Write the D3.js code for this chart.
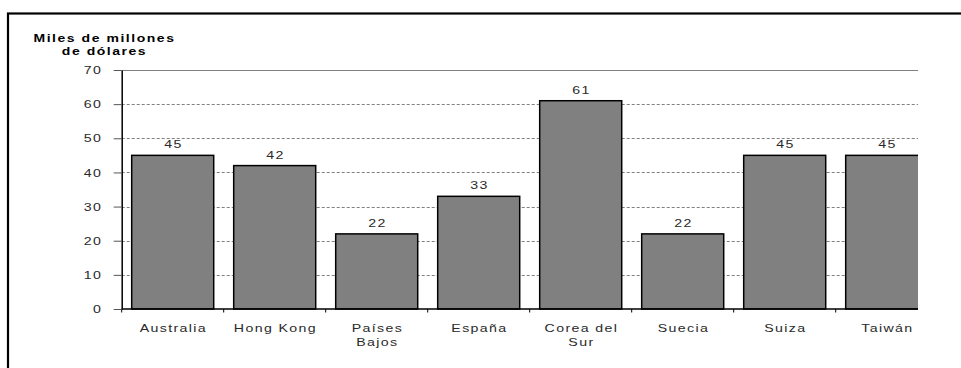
<!DOCTYPE html>
<html>
<head>
<meta charset="utf-8">
<script src="https://cdn.jsdelivr.net/npm/d3@7"></script>
<style>
  html, body { margin: 0; padding: 0; background: #fff; }
  svg { display: block; }
  text { font-family: "Liberation Sans", Arial, sans-serif; font-size: 10.5px; fill: #2a2a2a; letter-spacing: 1px; }
</style>
</head>
<body>
<div id="chart"></div>
<script>
// ---- data ----
const categories = ["Australia", "Hong Kong", "Países Bajos", "España", "Corea del Sur", "Suecia", "Suiza", "Taiwán"];
const categoryLabels = [["Australia"], ["Hong Kong"], ["Países", "Bajos"], ["España"], ["Corea del", "Sur"], ["Suecia"], ["Suiza"], ["Taiwán"]];
const values = [45, 42, 22, 33, 61, 22, 45, 45];
const yTicks = [0, 10, 20, 30, 40, 50, 60, 70];
const yTitle = ["Miles de millones", "de dólares"];

// ---- layout ----
const W = 961, H = 368;
const plotLeft = 121.7, plotRight = 937.7, clipRight = 918;
const plotTop = 70, plotBottom = 309;
const sx = 1.35; // horizontal stretch of text

const svg = d3.select("#chart").append("svg").attr("width", W).attr("height", H);

// frame (clipped by window)
svg.append("rect").attr("x", 8).attr("y", 13.5).attr("width", 1000).attr("height", 400)
  .attr("fill", "none").attr("stroke", "#000").attr("stroke-width", 2.2);

const y = d3.scaleLinear().domain([0, 70]).range([plotBottom, plotTop]);
const x = d3.scaleBand().domain(categories).range([plotLeft, plotRight])
  .paddingInner(0.196).paddingOuter(0.098);
const xb = d3.scaleBand().domain(categories).range([plotLeft, plotRight]).padding(0);

svg.append("clipPath").attr("id", "clip").append("rect")
  .attr("x", 0).attr("y", 0).attr("width", clipRight).attr("height", H);

const plot = svg.append("g").attr("clip-path", "url(#clip)");

// gridlines
plot.selectAll("line.grid").data(yTicks.filter(d => d > 0)).enter().append("line")
  .attr("class", "grid")
  .attr("x1", plotLeft).attr("x2", plotRight)
  .attr("y1", d => Math.round(y(d)) + 0.5).attr("y2", d => Math.round(y(d)) + 0.5)
  .attr("stroke", "#808080").attr("stroke-width", 1)
  .attr("stroke-dasharray", d => d === 70 ? null : "3,2");

// bars
plot.selectAll("rect.bar").data(values).enter().append("rect")
  .attr("class", "bar")
  .attr("x", (d, i) => x(categories[i]))
  .attr("y", d => y(d))
  .attr("width", x.bandwidth())
  .attr("height", d => y(0) - y(d))
  .attr("fill", "#808080").attr("stroke", "#000").attr("stroke-width", 1.5);

// value labels
plot.selectAll("text.val").data(values).enter().append("text")
  .attr("class", "val")
  .attr("text-anchor", "middle")
  .attr("transform", (d, i) => `translate(${x(categories[i]) + x.bandwidth() / 2 + 0.7},${y(d) - 7}) scale(${sx},1)`)
  .text(d => d);

// y axis
const yAxis = svg.append("g").attr("transform", `translate(${plotLeft},0)`)
  .call(d3.axisLeft(y).tickValues(yTicks).tickSize(8).tickSizeOuter(0));
yAxis.select(".domain").attr("stroke", "#000").attr("stroke-width", 1.5);
yAxis.selectAll(".tick line").attr("stroke", "#555");
yAxis.selectAll(".tick text")
  .attr("x", 0).attr("dy", "0.35em")
  .attr("transform", `translate(-19.5,0) scale(${sx},1)`)
  .style("font-family", "'Liberation Sans', Arial, sans-serif").style("font-size", "10.5px")
  .attr("fill", "#2a2a2a");

// x axis line and boundary ticks
const xa = plot.append("g");
xa.append("line").attr("x1", plotLeft).attr("x2", plotRight)
  .attr("y1", y(0)).attr("y2", y(0)).attr("stroke", "#000").attr("stroke-width", 1.5);
const bounds = categories.map(c => xb(c)).concat([xb(categories[categories.length - 1]) + xb.bandwidth()]);
xa.selectAll("line.bt").data(bounds).enter().append("line")
  .attr("class", "bt")
  .attr("x1", d => d).attr("x2", d => d)
  .attr("y1", y(0)).attr("y2", y(0) + 3.5)
  .attr("stroke", "#000").attr("stroke-width", 1);

// x labels
categoryLabels.forEach((lines, i) => {
  const cx = x(categories[i]) + x.bandwidth() / 2 + 0.7;
  lines.forEach((ln, j) => {
    svg.append("text").attr("text-anchor", "middle")
      .attr("transform", `translate(${cx},${332 + j * 14}) scale(${sx},1)`)
      .text(ln);
  });
});

// y title
yTitle.forEach((ln, j) => {
  svg.append("text").attr("text-anchor", "middle")
    .style("font-weight", "bold")
    .style("font-size", "10px")
    .style("letter-spacing", "1.1px")
    .style("fill", "#000")
    .attr("transform", `translate(104.5,${42 + j * 12.5}) scale(1.4,1)`)
    .text(ln);
});
</script>
</body>
</html>
